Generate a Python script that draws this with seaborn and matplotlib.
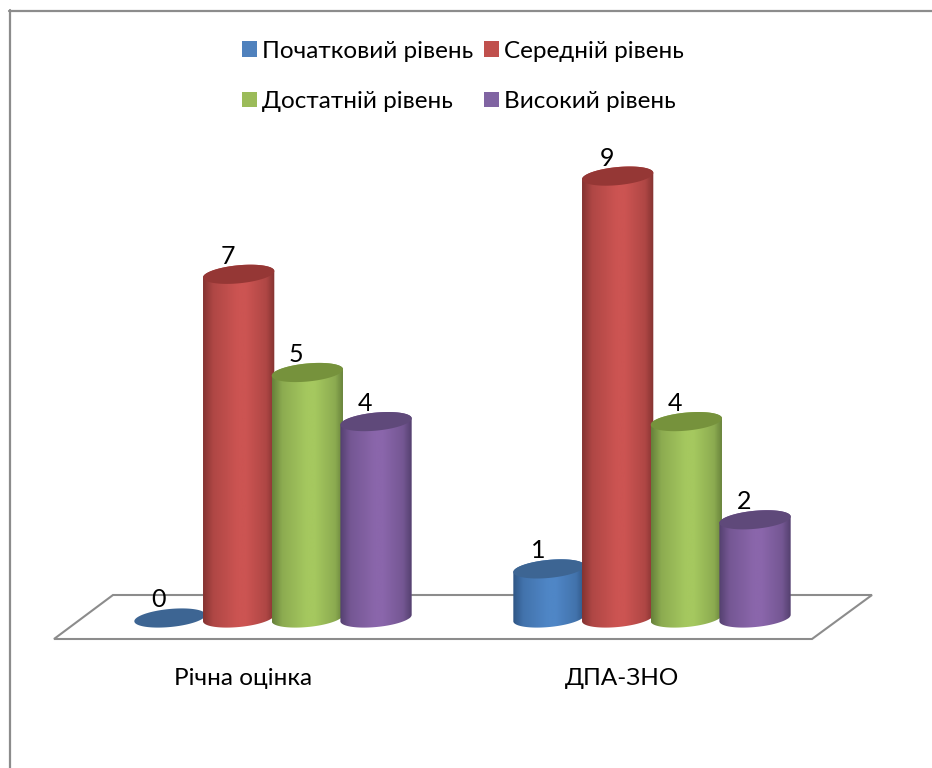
import numpy as np
import pandas as pd
import matplotlib
matplotlib.use("Agg")
import matplotlib.pyplot as plt
from matplotlib.colors import LinearSegmentedColormap, to_rgb
from matplotlib.lines import Line2D
from matplotlib.patches import Polygon
from matplotlib.path import Path
from matplotlib.transforms import IdentityTransform, ScaledTranslation
import seaborn as sns

# data
groups = ["Річна оцінка", "ДПА-ЗНО"]
levels = ["Початковий рівень", "Середній рівень", "Достатній рівень", "Високий рівень"]
pochatkovyi = [0, 1]
serednii = [7, 9]
dostatnii = [5, 4]
vysokyi = [4, 2]

# colours: middle of the cylinder, its edge, its lid
mid_colors = ["#4F86C6", "#CC5452", "#A5C85F", "#8A66AB"]
edge_colors = ["#2F5685", "#843331", "#66803A", "#54406F"]
lid_colors = ["#3D6593", "#953735", "#76923C", "#5F497A"]
legend_colors = ["#4F81BD", "#C0504D", "#9BBB59", "#8064A2"]

W, H = 932, 768
sns.set_theme(style="white")
plt.rcParams["font.family"] = ["Lato", "Open Sans", "DejaVu Sans"]
plt.rcParams["text.color"] = "black"

df = pd.DataFrame({
    "group": groups * 4,
    "level": [lv for lv in levels for _ in groups],
    "value": pochatkovyi + serednii + dostatnii + vysokyi,
})

fig = plt.figure(figsize=(W / 100, H / 100), dpi=100, facecolor="white")
ax = fig.add_axes([0, (H - 640) / H, 1, (640 - 130) / H])
ax.patch.set_alpha(0)

sns.barplot(data=df, x="group", y="value", hue="level", hue_order=levels,
            palette=dict(zip(levels, legend_colors)), width=0.725, gap=0,
            saturation=1, ax=ax, legend=False)

# px scale: groups are 379 px apart, one unit of value is 49.1 px
ax.set_xlim(-273 / 379, (W - 273) / 379)
ax.set_ylim(-22 / 49.1, (618 - 130) / 49.1)
ax.set_xlabel("")
ax.set_ylabel("")
ax.set_yticks([])
ax.tick_params(axis="x", length=0, pad=20, labelsize=17.5, colors="black")
sns.despine(ax=ax, left=True, bottom=True)
for lab in ax.get_xticklabels():
    lab.set_transform(lab.get_transform() + ScaledTranslation(-30 / 100, 0, fig.dpi_scale_trans))

# frame + floor, in figure pixels
frame_col = "#8C8C8C"
def to_fig(x, y):
    return x / W, 1 - y / H
for xs, ys in [([10, 10], [H, 10]), ([9, W], [10.5, 10.5])]:
    fx, fy = zip(*[to_fig(a, b) for a, b in zip(xs, ys)])
    fig.add_artist(Line2D(fx, fy, color=frame_col, lw=1.6, zorder=0))
floor = Polygon([to_fig(54, 639), to_fig(113, 595), to_fig(872, 595), to_fig(812, 639)],
                closed=True, fill=False, edgecolor=frame_col, lw=1.5,
                joinstyle="miter", transform=fig.transFigure, zorder=0)
fig.add_artist(floor)

fig.canvas.draw()
A = 35.8
B = 9
TILT = np.deg2rad(5.5)

def ellipse_pts(cx, cy, t):
    px = A * np.cos(t)
    py = B * np.sin(t)
    return np.c_[cx + px * np.cos(TILT) - py * np.sin(TILT),
                 cy + px * np.sin(TILT) + py * np.cos(TILT)]

def blend(a, b, k):
    return tuple((1 - k) * np.array(to_rgb(a)) + k * np.array(to_rgb(b)))

order = 3
for c, container in enumerate(ax.containers):
    e, m = edge_colors[c], mid_colors[c]
    cmap = LinearSegmentedColormap.from_list(
        f"cyl{c}", [(0, e), (0.14, blend(e, m, 0.6)), (0.48, m), (0.6, m),
                    (0.88, blend(e, m, 0.6)), (1, e)])
    for bar in container:
        value = bar.get_height()
        cx_data = bar.get_x() + bar.get_width() / 2
        # display coords (y up)
        cx, base = ax.transData.transform((cx_data, 0))
        _, top = ax.transData.transform((cx_data, value))
        lid = ellipse_pts(cx, top, np.linspace(0, 2 * np.pi, 90))
        if value > 0:
            # right side down, round the bottom, left side up, round the top
            lower = ellipse_pts(cx, base, np.linspace(0, -np.pi, 60))
            upper = ellipse_pts(cx, top, np.linspace(np.pi, 0, 60))
            body = np.vstack([lower, upper, lower[:1]])
            clip = Path(body, closed=True)
            x0, _ = ax.transData.inverted().transform((cx - A, 0))
            x1, _ = ax.transData.inverted().transform((cx + A, 0))
            y0 = ax.transData.inverted().transform((0, base - B - 6))[1]
            y1 = ax.transData.inverted().transform((0, top + B + 6))[1]
            grad = np.linspace(0, 1, 128)[None, :]
            im = ax.imshow(grad, extent=(x0, x1, y0, y1), cmap=cmap, aspect="auto",
                           interpolation="bilinear", zorder=order)
            im.set_clip_path(clip, transform=IdentityTransform())
            bar.set_clip_path(clip, transform=IdentityTransform())
            bar.set_zorder(order - 0.5)
        else:
            bar.set_visible(False)
        ax.add_patch(Polygon(lid, closed=True, facecolor=lid_colors[c], edgecolor="none",
                             transform=IdentityTransform(), zorder=order + 0.1))
        ax.annotate(f"{value:g}", xy=(cx_data, value), xytext=(-7.9, 13),
                    textcoords="offset points", ha="center", va="center",
                    fontsize=18, color="black", annotation_clip=False, zorder=20)
        order += 1

ax.set_xlim(-273 / 379, (W - 273) / 379)
ax.set_ylim(-22 / 49.1, (618 - 130) / 49.1)

# legend, filled column by column
handles = [plt.Rectangle((0, 0), 1, 1, facecolor=col, edgecolor="none") for col in legend_colors]
idx = [0, 2, 1, 3]
leg = fig.legend([handles[i] for i in idx], [levels[i] for i in idx], ncol=2, frameon=False,
                 loc="upper left", bbox_to_anchor=(235 / W, 1 - 33.5 / H),
                 bbox_transform=fig.transFigure, fontsize=17.5,
                 handlelength=0.62, handleheight=0.62, handletextpad=0.2,
                 columnspacing=0.42, labelspacing=1.2, borderaxespad=0, borderpad=0.3,
                 labelcolor="black")

fig.savefig("out.png", dpi=100, facecolor="white")
